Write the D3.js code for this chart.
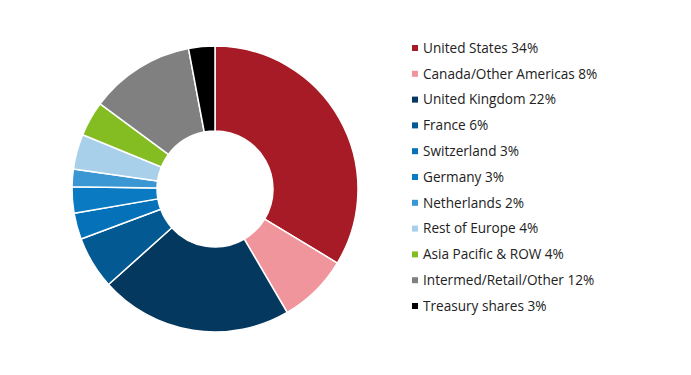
<!DOCTYPE html>
<html>
<head>
<meta charset="utf-8">
<script src="https://cdn.jsdelivr.net/npm/d3@7"></script>
<style>
  body { margin: 0; background: #fff; }
  svg { display: block; }
</style>
</head>
<body>
<svg id="chart" width="691" height="375"></svg>
<script>
const categories = [
  'United States', 'Canada/Other Americas', 'United Kingdom', 'France',
  'Switzerland', 'Germany', 'Netherlands', 'Rest of Europe',
  'Asia Pacific & ROW', 'Intermed/Retail/Other', 'Treasury shares'
];
const shares = [34, 8, 22, 6, 3, 3, 2, 4, 4, 12, 3];
const colors = [
  '#a71b26', '#f0959b', '#04385e', '#035a93',
  '#0571b9', '#0a7bc3', '#3b97d3', '#a8d0ea',
  '#84bd22', '#808080', '#000000'
];

const data = categories.map((name, i) => ({ name, value: shares[i], color: colors[i] }));

const svg = d3.select('#chart');
const cx = 215, cy = 189;
const outer = 143, inner = 58;

const pie = d3.pie()
  .value(d => d.value)
  .sort(null);

const arc = d3.arc()
  .innerRadius(inner)
  .outerRadius(outer);

const donut = svg.append('g')
  .attr('transform', `translate(${cx},${cy})`);

donut.selectAll('path')
  .data(pie(data))
  .join('path')
  .attr('d', arc)
  .attr('fill', d => d.data.color)
  .attr('stroke', '#fff')
  .attr('stroke-width', 1.5)
  .attr('stroke-linejoin', 'round');

// legend
const y = d3.scalePoint()
  .domain(categories)
  .range([48, 306]);

const legend = svg.append('g')
  .selectAll('g')
  .data(data)
  .join('g')
  .attr('transform', d => `translate(412,${y(d.name)})`);

legend.append('rect')
  .attr('x', 0)
  .attr('y', -3)
  .attr('width', 6)
  .attr('height', 6)
  .attr('fill', d => d.color);

legend.append('text')
  .attr('x', 11)
  .attr('dy', '0.35em')
  .style('font-family', '"Open Sans", sans-serif')
  .style('font-size', '13.6px')
  .style('fill', '#222')
  .text(d => `${d.name} ${d.value}%`);
</script>
</body>
</html>
